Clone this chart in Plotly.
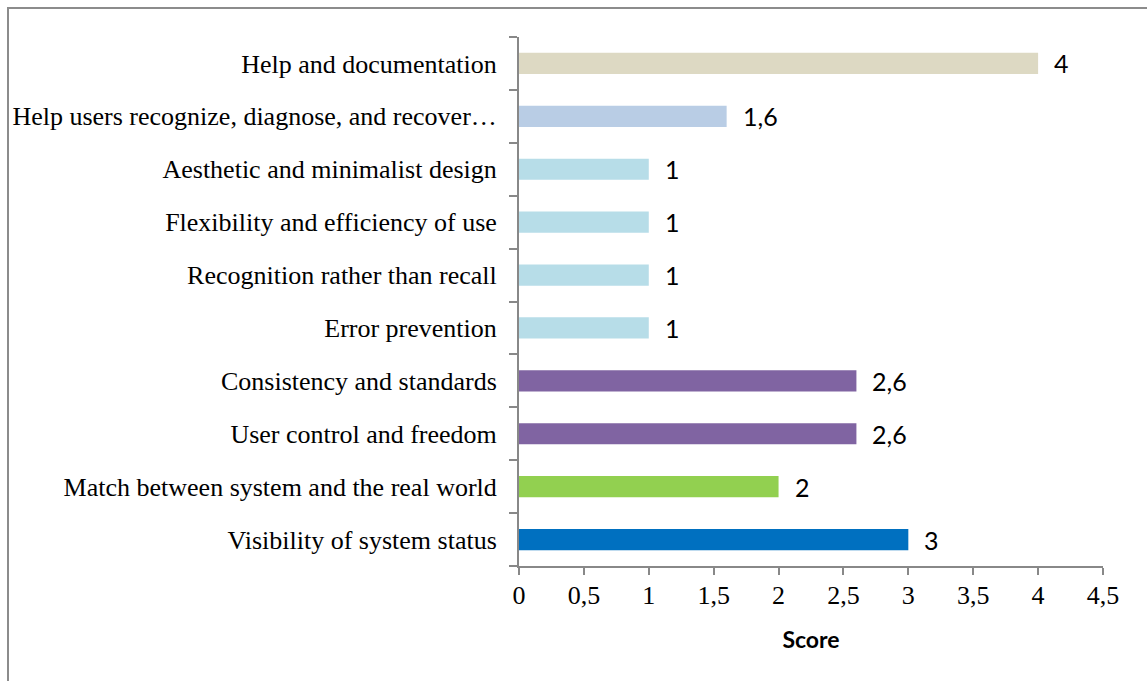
import plotly.graph_objects as go

# Heuristic categories, listed bottom to top
categories = [
    "Visibility of system status",
    "Match between system and the real world",
    "User control and freedom",
    "Consistency and standards",
    "Error prevention",
    "Recognition rather than recall",
    "Flexibility and efficiency of use",
    "Aesthetic and minimalist design",
    "Help users recognize, diagnose, and recover…",
    "Help and documentation",
]
scores = [3, 2, 2.6, 2.6, 1, 1, 1, 1, 1.6, 4]
bar_colors = [
    "#0070C0", "#92D050", "#8064A2", "#8064A2",
    "#B7DDE8", "#B7DDE8", "#B7DDE8", "#B7DDE8",
    "#B9CDE5", "#DDD9C3",
]
x_ticks = [0, 0.5, 1, 1.5, 2, 2.5, 3, 3.5, 4, 4.5]


def comma(v):
    return str(v).replace(".", ",")


fig = go.Figure(
    go.Bar(
        x=scores,
        y=categories,
        orientation="h",
        width=0.4,
        marker=dict(color=bar_colors, line=dict(width=0)),
        hoverinfo="x+y",
    )
)

# Value labels to the right of each bar
for cat, v in zip(categories, scores):
    fig.add_annotation(
        x=v, y=cat, text=comma(v), showarrow=False,
        xanchor="left", yanchor="middle", xshift=14,
        font=dict(family="Lato, Carlito, sans-serif", size=25, color="#000000"),
    )

axis_grey = "#888888"
serif = "Liberation Serif, Times New Roman, serif"

fig.update_layout(
    width=1147,
    height=681,
    margin=dict(l=519, r=44, t=37, b=115),
    paper_bgcolor="white",
    plot_bgcolor="white",
    showlegend=False,
    bargap=0.6,
    xaxis=dict(
        range=[0, 4.5],
        tickvals=x_ticks,
        ticktext=[comma(t) for t in x_ticks],
        showgrid=False,
        zeroline=False,
        showline=True,
        linecolor=axis_grey,
        linewidth=2,
        ticks="outside",
        ticklen=7,
        tickwidth=2,
        tickcolor=axis_grey,
        tickfont=dict(family=serif, size=26, color="#000000"),
        ticklabelstandoff=-2,
        title=dict(
            text="<b>Score</b>",
            font=dict(family="Lato, Carlito, sans-serif", size=23, color="#000000"),
            standoff=23,
        ),
    ),
    yaxis=dict(
        type="category",
        categoryorder="array",
        categoryarray=categories,
        showgrid=False,
        zeroline=False,
        showline=True,
        linecolor=axis_grey,
        linewidth=2,
        ticks="outside",
        tickson="boundaries",
        ticklen=8,
        tickwidth=2,
        tickcolor=axis_grey,
        tickfont=dict(family=serif, size=26, color="#000000"),
        ticklabelstandoff=15,
    ),
)

# Chart-area frame
fig.add_shape(
    type="rect", xref="paper", yref="paper",
    x0=-0.875, y0=-0.25, x1=1.1, y1=1.0548,
    line=dict(color="#8c8c8c", width=2),
    fillcolor="rgba(0,0,0,0)", layer="below",
)

fig.write_html("out.html")
